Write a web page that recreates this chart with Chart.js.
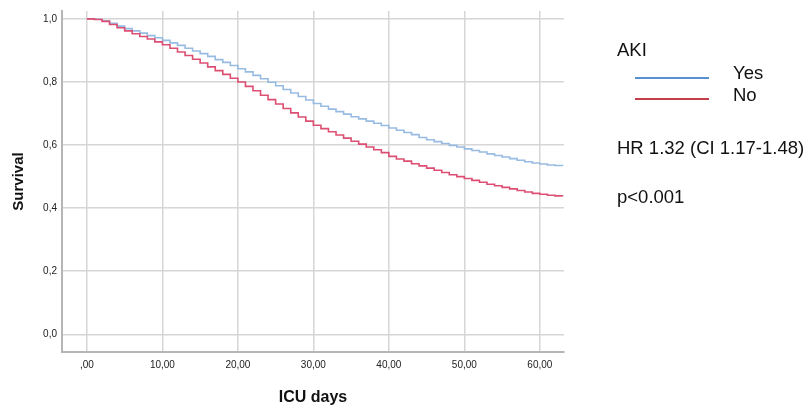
<!DOCTYPE html>
<html>
<head>
<meta charset="utf-8">
<script src="https://cdn.jsdelivr.net/npm/chart.js@4.4.1/dist/chart.umd.min.js"></script>
<style>
  html, body { margin: 0; padding: 0; background: #fff; }
  #wrap { position: relative; width: 810px; height: 409px; }
  #wrap canvas { position: absolute; left: 0; top: 0; }
  .txt { position: absolute; font-family: "Liberation Sans", Arial, sans-serif; font-size: 18.5px; line-height: 18.5px; color: #111; white-space: nowrap; }
  .leg { position: absolute; height: 2px; }
</style>
</head>
<body>
<div id="wrap">
  <canvas id="km" width="810" height="409"></canvas>
  <div class="txt" style="left:617px; top:41px;">AKI</div>
  <div class="leg" style="left:635px; top:77px; width:74px; background:#5a8fcf;"></div>
  <div class="txt" style="left:733px; top:64px;">Yes</div>
  <div class="leg" style="left:635px; top:98px; width:74px; background:#c63c4c;"></div>
  <div class="txt" style="left:733px; top:86px;">No</div>
  <div class="txt" style="left:617px; top:139px;">HR 1.32 (CI 1.17-1.48)</div>
  <div class="txt" style="left:617px; top:188px;">p&lt;0.001</div>
</div>
<script>
(()=>{
    // survival by ICU day (0..63)
    const days = [0,1,2,3,4,5,6,7,8,9,10,11,12,13,14,15,16,17,18,19,20,21,22,23,24,25,26,27,28,29,30,31,
        32,33,34,35,36,37,38,39,40,41,42,43,44,45,46,47,48,49,50,51,52,53,54,55,56,57,58,59,60,61,62,63];
    const survYes = [1.000,0.999,0.994,0.986,0.977,0.969,0.962,0.955,0.947,0.940,0.932,0.924,0.916,0.907,0.898,0.890,
        0.881,0.871,0.862,0.852,0.842,0.832,0.821,0.810,0.799,0.788,0.776,0.765,0.754,0.743,0.732,0.723,
        0.714,0.706,0.698,0.690,0.683,0.676,0.669,0.662,0.654,0.647,0.640,0.633,0.624,0.617,0.611,0.605,
        0.599,0.594,0.588,0.583,0.578,0.572,0.567,0.562,0.557,0.552,0.547,0.543,0.540,0.537,0.535,0.534];
    const survNo = [1.000,0.998,0.992,0.982,0.972,0.962,0.953,0.944,0.936,0.927,0.918,0.907,0.895,0.884,0.872,0.860,
        0.848,0.836,0.824,0.812,0.800,0.786,0.772,0.758,0.744,0.730,0.716,0.702,0.689,0.676,0.663,0.652,
        0.642,0.632,0.622,0.612,0.603,0.594,0.585,0.576,0.564,0.556,0.549,0.541,0.534,0.527,0.520,0.513,
        0.506,0.500,0.494,0.488,0.482,0.476,0.471,0.466,0.461,0.456,0.451,0.447,0.444,0.441,0.439,0.438];
    const xTicks = [0,10,20,30,40,50,60];
    const xTickLabels = [',00','10,00','20,00','30,00','40,00','50,00','60,00'];
    const yTicks = [0,0.2,0.4,0.6,0.8,1.0];
    const yTickLabels = ['0,0','0,2','0,4','0,6','0,8','1,0'];

    const FONT = '"Liberation Sans", Arial, sans-serif';
    const ctx = document.getElementById('km').getContext('2d');

    const toPoints = (vals) => days.map((d, i) => ({x: d, y: vals[i]}));

    new Chart(ctx, {
        type: 'line',
        data: {
            datasets: [
                { label: 'No', data: toPoints(survNo), borderColor: '#dd4f72', borderWidth: 1.6,
                  stepped: 'before', pointRadius: 0, fill: false },
                { label: 'Yes', data: toPoints(survYes), borderColor: '#98bbe2', borderWidth: 1.6,
                  stepped: 'before', pointRadius: 0, fill: false }
            ]
        },
        options: {
            responsive: false,
            animation: false,
            layout: { padding: { top: 7, right: 246, left: 0, bottom: 0 } },
            plugins: { legend: { display: false }, tooltip: { enabled: false } },
            scales: {
                x: {
                    type: 'linear', min: -3.3, max: 63.2,
                    afterBuildTicks: (s) => { s.ticks = xTicks.map(v => ({value: v})); },
                    afterFit: (s) => { s.height = 57; },
                    grid: { color: '#d6d6d6', lineWidth: 1.5, drawTicks: false },
                    border: { color: '#b5b5b5', width: 2 },
                    ticks: {
                        padding: 7, color: '#222', font: { family: FONT, size: 10 },
                        maxRotation: 0, autoSkip: false,
                        callback: (v) => xTickLabels[xTicks.indexOf(v)]
                    },
                    title: { display: true, text: 'ICU days', color: '#111',
                        font: { family: FONT, size: 16, weight: 'bold' }, padding: { top: 0, bottom: 2 } }
                },
                y: {
                    min: -0.056, max: 1.025,
                    afterBuildTicks: (s) => { s.ticks = yTicks.map(v => ({value: v})); },
                    afterFit: (s) => { s.width = 62; },
                    grid: { color: '#d6d6d6', lineWidth: 1.5, drawTicks: false },
                    border: { color: '#b5b5b5', width: 2 },
                    ticks: {
                        padding: 5, color: '#222', font: { family: FONT, size: 10 },
                        callback: (v) => yTickLabels[yTicks.findIndex(t => Math.abs(t - v) < 1e-6)]
                    },
                    title: { display: true, text: 'Survival', color: '#111',
                        font: { family: FONT, size: 15, weight: 'bold' }, padding: { top: 10, bottom: 0 } }
                }
            }
        }
    });
})()
</script>
</body>
</html>
